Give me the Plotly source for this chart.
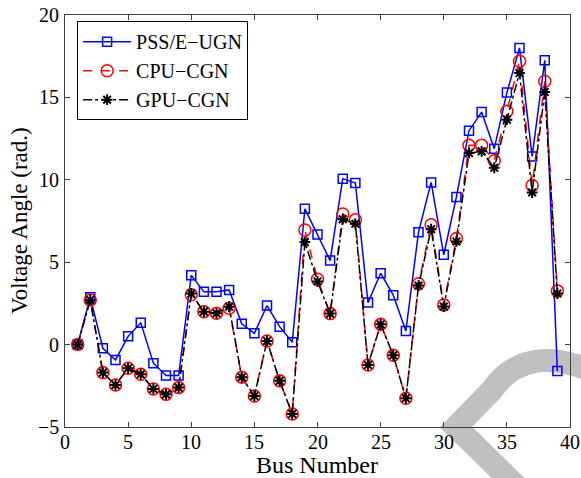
import plotly.graph_objects as go

bus = list(range(1, 40))
pss = [0.0, 2.87, -0.22, -0.93, 0.5, 1.32, -1.13, -1.88, -1.88, 4.21,
       3.2, 3.2, 3.32, 1.26, 0.69, 2.37, 1.09, 0.14, 8.24, 6.68,
       5.1, 10.07, 9.8, 2.55, 4.33, 3.0, 0.83, 6.82, 9.84, 5.45,
       8.95, 12.98, 14.11, 11.89, 15.29, 18.0, 11.42, 17.25, -1.6]
cpu = [0.0, 2.71, -1.7, -2.45, -1.44, -1.8, -2.69, -3.02, -2.61, 3.02,
       2.0, 1.9, 2.21, -1.98, -3.12, 0.22, -2.2, -4.21, 6.95, 3.97,
       1.88, 7.92, 7.57, -1.24, 1.23, -0.65, -3.26, 3.69, 7.27, 2.41,
       6.44, 12.09, 12.09, 11.16, 14.16, 17.19, 9.66, 15.98, 3.26]
gpu = [0.0, 2.71, -1.7, -2.45, -1.44, -1.8, -2.69, -3.02, -2.61, 3.1,
       2.0, 1.9, 2.3, -1.98, -3.12, 0.22, -2.2, -4.21, 6.22, 3.83,
       1.88, 7.61, 7.33, -1.24, 1.23, -0.65, -3.26, 3.58, 7.0, 2.31,
       6.26, 11.62, 11.73, 10.73, 13.65, 16.48, 9.23, 15.33, 3.1]
xticks = [0, 5, 10, 15, 20, 25, 30, 35, 40]
yticks = [-5, 0, 5, 10, 15, 20]
yticklabels = ["\u22125", "0", "5", "10", "15", "20"]

FONT = "Liberation Serif"

fig = go.Figure()
fig.add_trace(go.Scatter(x=bus, y=pss, name="PSS/E\u2212UGN", mode="lines+markers",
                         line=dict(color="#0000ff", width=1.5),
                         marker=dict(symbol="square-open", size=9, color="#0000ff",
                                     line=dict(width=1.5))))
fig.add_trace(go.Scatter(x=bus, y=cpu, name="CPU\u2212CGN", mode="lines+markers",
                         line=dict(color="#ff0000", width=1.5, dash="dash"),
                         marker=dict(symbol="circle-open", size=12, color="#ff0000",
                                     line=dict(width=1.5))))
fig.add_trace(go.Scatter(x=bus, y=gpu, name="GPU\u2212CGN", mode="lines+markers",
                         line=dict(color="#000000", width=1.5, dash="dashdot"),
                         marker=dict(symbol="asterisk-open", size=9, color="#000000",
                                     line=dict(width=2, color="#000000"))))

def P(px, py):
    return (px - 65) / 505, (427 - py) / 412

pts = [P(545, 514), P(456, 427), P(492, 390), P(524, 344), P(590, 370)]
path = "M {:.4f},{:.4f} L {:.4f},{:.4f} L {:.4f},{:.4f} Q {:.4f},{:.4f} {:.4f},{:.4f}".format(
    *[c for p in pts for c in p])
fig.add_shape(type="path", path=path, xref="paper", yref="paper",
              line=dict(color="#c0c0c0", width=23), layer="below")

axis_common = dict(showline=True, mirror="ticks", linecolor="#404040", linewidth=1,
                   ticks="inside", ticklen=5, tickcolor="#404040", showgrid=False,
                   zeroline=False, automargin=False, showticklabels=False)

# tick labels placed through the axes' own data scales
for v in xticks:
    fig.add_annotation(text=str(v), x=v, xref="x", y=(427 - 442) / 412, yref="paper",
                       xanchor="center", yanchor="middle", showarrow=False,
                       font=dict(family=FONT, size=20, color="black"))
for v, t in zip(yticks, yticklabels):
    fig.add_annotation(text=t, x=(61 - 65) / 505, xref="paper", y=v, yref="y",
                       xanchor="right", yanchor="middle", showarrow=False,
                       font=dict(family=FONT, size=20, color="black"))

fig.add_annotation(text="Bus Number", xref="paper", yref="paper",
                   x=0.499, y=(427 - 465) / 412, xanchor="center", yanchor="middle",
                   showarrow=False, font=dict(family=FONT, size=24, color="black"))
fig.add_annotation(text="Voltage Angle (rad.)", xref="paper", yref="paper",
                   x=(19 - 65) / 505, y=0.5, xanchor="center", yanchor="middle",
                   textangle=-90, showarrow=False,
                   font=dict(family=FONT, size=23, color="black"))

fig.update_layout(
    width=581, height=478,
    margin=dict(l=65, r=11, t=15, b=51),
    paper_bgcolor="white", plot_bgcolor="rgba(0,0,0,0)",
    font=dict(family=FONT, color="black"),
    xaxis=dict(range=[0, 40], tickvals=xticks, **axis_common),
    yaxis=dict(range=[-5, 20], tickvals=yticks, **axis_common),
    legend=dict(x=0.024, y=0.985, xanchor="left", yanchor="top",
                bordercolor="black", borderwidth=1, bgcolor="white",
                font=dict(family=FONT, size=20), tracegroupgap=0, itemwidth=48),
    showlegend=True,
)

fig.write_html("out.html")
